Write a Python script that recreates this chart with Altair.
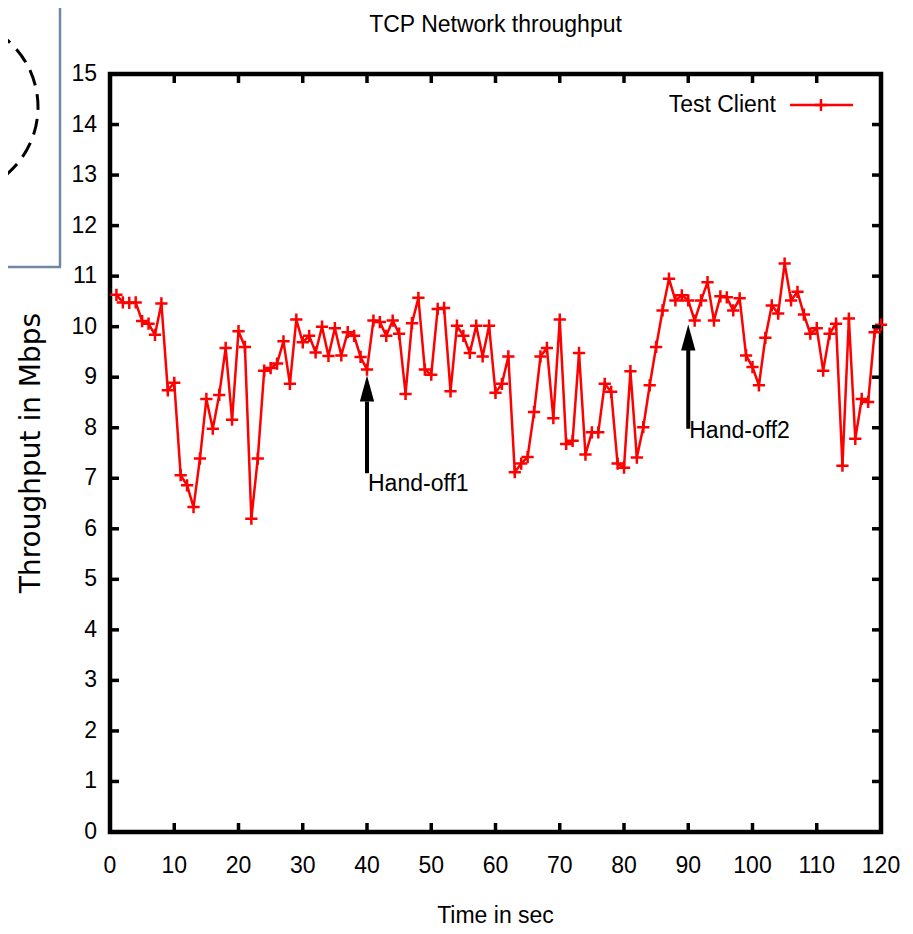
import altair as alt
import pandas as pd

# ---------------- data ----------------
time_s = list(range(1, 121))
throughput = [
    10.63, 10.48, 10.47, 10.48, 10.11, 10.06, 9.84, 10.46, 8.74, 8.89,
    7.06, 6.86, 6.43, 7.39, 8.57, 7.98, 8.65, 9.58, 8.16, 9.91,
    9.60, 6.20, 7.39, 9.13, 9.18, 9.27, 9.71, 8.87, 10.14, 9.69,
    9.82, 9.49, 10.00, 9.42, 9.97, 9.43, 9.89, 9.82, 9.40, 9.15,
    10.12, 10.09, 9.82, 10.12, 9.86, 8.67, 10.07, 10.57, 9.15, 9.05,
    10.35, 10.37, 8.72, 10.02, 9.82, 9.48, 10.02, 9.41, 10.02, 8.69,
    8.87, 9.41, 7.12, 7.29, 7.42, 8.31, 9.41, 9.58, 8.19, 10.14,
    7.68, 7.74, 9.48, 7.47, 7.91, 7.91, 8.87, 8.71, 7.29, 7.21,
    9.12, 7.41, 8.01, 8.84, 9.60, 10.32, 10.95, 10.52, 10.62, 10.52,
    10.12, 10.52, 10.88, 10.12, 10.60, 10.58, 10.32, 10.56, 9.43, 9.20,
    8.84, 9.78, 10.42, 10.26, 11.25, 10.52, 10.69, 10.24, 9.86, 9.97,
    9.13, 9.86, 10.06, 7.25, 10.16, 7.78, 8.57, 8.51, 9.89, 10.04,
]
x_ticks = list(range(0, 121, 10))
y_ticks = list(range(0, 16))

handoff_t = [40, 90]
handoff_labels = ["Hand-off1", "Hand-off2"]
arrow_tail = [7.10, 7.98]
arrow_base = [8.52, 9.55]
arrow_tip = [9.03, 10.02]
label_y = [6.89, 7.94]

legend_label = "Test Client"
chart_title = "TCP Network throughput"
x_title = "Time in sec"
y_title = "Throughput in Mbps"

# ---------------- layout ----------------
W, H = 771, 758
FONT = "Liberation Sans"
FS = 23
RED = "#ff0000"
CROSS = "M-1,0L1,0M0,-1L0,1"

df = pd.DataFrame({"t": time_s, "v": throughput})
xt = pd.DataFrame({"t": x_ticks, "lab": [str(v) for v in x_ticks]})
yt = pd.DataFrame({"v": y_ticks, "lab": [str(v) for v in y_ticks]})
ann = pd.DataFrame({
    "t": handoff_t, "label": handoff_labels, "tail": arrow_tail,
    "base": arrow_base, "tip": arrow_tip, "ly": label_y,
})
ann["mid"] = (ann["base"] + ann["tip"]) / 2
one = pd.DataFrame({"legend": [legend_label], "title": [chart_title],
                    "xt": [x_title], "yt": [y_title]})

xs = alt.Scale(domain=[0, 120], nice=False, zero=False)
ys = alt.Scale(domain=[0, 15], nice=False, zero=False)
X = lambda f: alt.X(f, scale=xs, axis=None)
Y = lambda f: alt.Y(f, scale=ys, axis=None)

line = alt.Chart(df).mark_line(color=RED, strokeWidth=2.5).encode(
    x=X("t:Q"), y=Y("v:Q"))
pts = alt.Chart(df).mark_point(shape=CROSS, size=150, strokeWidth=2.5, color=RED,
                                filled=False, opacity=1).encode(x=X("t:Q"), y=Y("v:Q"))

# inward ticks on all four sides (gnuplot style)
tick_style = dict(color="black", strokeWidth=3.5)
tb = alt.Chart(xt).mark_rule(**tick_style).encode(
    x=X("t:Q"), y=alt.value(H), y2=alt.value(H - 9))
tt = alt.Chart(xt).mark_rule(**tick_style).encode(
    x=X("t:Q"), y=alt.value(0), y2=alt.value(9))
tl = alt.Chart(yt).mark_rule(**tick_style).encode(
    y=Y("v:Q"), x=alt.value(0), x2=alt.value(9))
tr = alt.Chart(yt).mark_rule(**tick_style).encode(
    y=Y("v:Q"), x=alt.value(W), x2=alt.value(W - 9))

# tick labels
xl = alt.Chart(xt).mark_text(align="center", baseline="middle", font=FONT,
                             fontSize=FS, color="black").encode(
    x=X("t:Q"), y=alt.value(H + 34), text="lab:N")
yl = alt.Chart(yt).mark_text(align="right", baseline="middle", font=FONT,
                             fontSize=FS, color="black").encode(
    y=Y("v:Q"), x=alt.value(-13), text="lab:N")

# hand-off annotations
shaft = alt.Chart(ann).mark_rule(color="black", strokeWidth=4).encode(
    x=X("t:Q"), y=Y("tail:Q"), y2="base:Q")
head = alt.Chart(ann).mark_point(shape="M0,-1L0.55,1L-0.55,1Z", size=676,
                                 filled=True, color="black", opacity=1).encode(
    x=X("t:Q"), y=Y("mid:Q"))
hlab = alt.Chart(ann).mark_text(align="left", baseline="middle", font=FONT,
                                fontSize=FS, color="black", dx=1).encode(
    x=X("t:Q"), y=Y("ly:Q"), text="label:N")

# legend
leg_text = alt.Chart(one).mark_text(align="right", baseline="middle", font=FONT,
                                    fontSize=FS, color="black").encode(
    x=alt.value(666), y=alt.value(31), text="legend:N")
leg_line = alt.Chart(one).mark_rule(color=RED, strokeWidth=2.5).encode(
    x=alt.value(680), x2=alt.value(743), y=alt.value(31))
leg_pt = alt.Chart(one).mark_point(shape=CROSS, size=150, strokeWidth=2.5, color=RED,
                                   filled=False, opacity=1).encode(
    x=alt.value(711), y=alt.value(31))

# titles
title_t = alt.Chart(one).mark_text(align="center", baseline="middle", font=FONT,
                                   fontSize=FS, color="black").encode(
    x=alt.value(W / 2), y=alt.value(-49), text="title:N")
xtitle_t = alt.Chart(one).mark_text(align="center", baseline="middle", font=FONT,
                                    fontSize=FS, color="black").encode(
    x=alt.value(W / 2), y=alt.value(842), text="xt:N")
ytitle_t = alt.Chart(one).mark_text(align="center", baseline="middle", angle=270,
                                    font="DejaVu Sans", fontSize=28, color="black").encode(
    x=alt.value(-78), y=alt.value(H / 2), text="yt:N")

# stray overlay box from the source screenshot
box_v = alt.Chart(one).mark_rule(color="#6f89a2", strokeWidth=2.5).encode(
    x=alt.value(-50), y=alt.value(-80), y2=alt.value(193))
box_h = alt.Chart(one).mark_rule(color="#6f89a2", strokeWidth=2.5).encode(
    x=alt.value(-115), x2=alt.value(-49), y=alt.value(193))
circle = alt.Chart(one).mark_arc(radius=88, theta=0, theta2=6.2832, filled=False,
                                 stroke="black", strokeWidth=3,
                                 strokeDash=[16, 9]).encode(
    x=alt.value(-160), y=alt.value(33))

chart = alt.layer(
    line, pts, tb, tt, tl, tr, xl, yl, shaft, head, hlab,
    leg_text, leg_line, leg_pt, title_t, xtitle_t, ytitle_t,
    box_v, box_h, circle,
).properties(
    width=W, height=H,
    autosize=alt.AutoSizeParams(type="none"),
    padding={"left": 102, "top": 66, "right": 22, "bottom": 102},
).configure_view(stroke="black", strokeWidth=4.5)

chart.save("out.html", embed_options={"renderer": "svg", "actions": False})
